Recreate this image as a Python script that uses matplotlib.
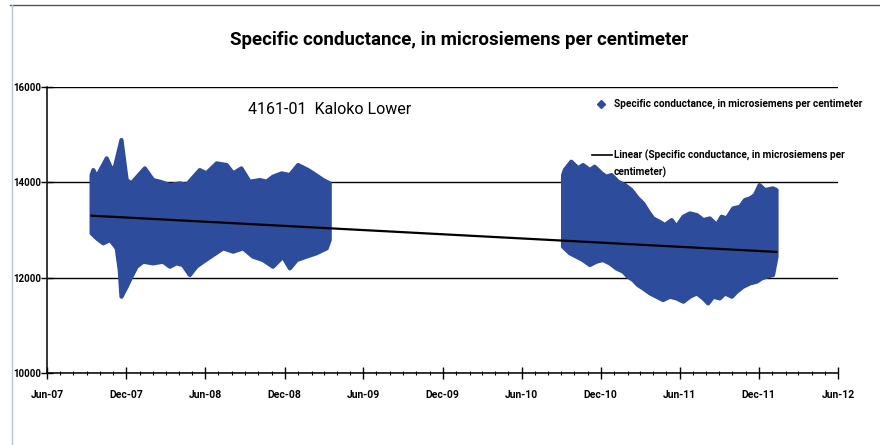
import matplotlib
matplotlib.use("Agg")
import matplotlib.pyplot as plt
import matplotlib.dates as mdates
from matplotlib.lines import Line2D
import pandas as pd

plt.rcParams['font.family'] = ['Roboto', 'DejaVu Sans']

# ---------------- data ----------------
seg1_upper_dates = ['2007-09-12', '2007-09-16', '2007-09-24', '2007-10-17', '2007-10-29', '2007-11-05',
                    '2007-11-20', '2007-12-02', '2007-12-13', '2008-01-13', '2008-02-01', '2008-02-17',
                    '2008-03-11', '2008-04-03', '2008-04-18', '2008-05-19', '2008-06-03', '2008-06-27',
                    '2008-07-20', '2008-08-04', '2008-08-23', '2008-09-11', '2008-10-05', '2008-10-20',
                    '2008-11-04', '2008-11-24', '2008-12-13', '2009-01-01', '2009-01-24', '2009-02-05',
                    '2009-02-28', '2009-03-15']
seg1_upper = [14150, 14258, 14118, 14503, 14258, 14328,
              14888, 14048, 13978, 14293, 14048, 14013,
              13943, 13978, 13943, 14258, 14188, 14398,
              14363, 14188, 14293, 14013, 14048, 14013,
              14118, 14188, 14153, 14363, 14258, 14188,
              14048, 13978]

seg1_lower_dates = ['2007-09-12', '2007-09-24', '2007-10-09', '2007-10-25', '2007-11-09', '2007-11-16',
                    '2007-11-20', '2007-12-02', '2007-12-13', '2007-12-25', '2008-01-09', '2008-02-01',
                    '2008-02-24', '2008-03-11', '2008-03-26', '2008-04-10', '2008-04-26', '2008-05-11',
                    '2008-05-27', '2008-06-19', '2008-07-12', '2008-08-04', '2008-08-27', '2008-09-19',
                    '2008-10-12', '2008-11-04', '2008-11-27', '2008-12-13', '2008-12-29', '2009-01-20',
                    '2009-02-12', '2009-03-08', '2009-03-15']
seg1_lower = [12930, 12825, 12720, 12790, 12615, 12160,
              11600, 11810, 12020, 12230, 12335, 12300,
              12335, 12230, 12300, 12265, 12055, 12230,
              12335, 12475, 12615, 12545, 12615, 12440,
              12370, 12230, 12440, 12195, 12370, 12440,
              12510, 12615, 12790]

seg2_upper_dates = ['2010-09-05', '2010-09-09', '2010-09-24', '2010-10-10', '2010-10-21', '2010-11-06',
                    '2010-11-17', '2010-12-03', '2010-12-14', '2010-12-26', '2011-01-10', '2011-01-26',
                    '2011-02-10', '2011-02-25', '2011-03-09', '2011-03-21', '2011-04-01', '2011-04-16',
                    '2011-04-28', '2011-05-14', '2011-05-25', '2011-06-10', '2011-06-25', '2011-07-11',
                    '2011-07-26', '2011-08-10', '2011-08-26', '2011-09-06', '2011-09-18', '2011-10-03',
                    '2011-10-19', '2011-10-30', '2011-11-11', '2011-11-22', '2011-12-03', '2011-12-15',
                    '2012-01-03', '2012-01-11']
seg2_upper = [14150, 14258, 14433, 14293, 14363, 14258,
              14328, 14188, 14118, 14153, 14013, 13943,
              13838, 13663, 13558, 13383, 13243, 13173,
              13103, 13208, 13068, 13278, 13348, 13313,
              13208, 13243, 13103, 13278, 13243, 13453,
              13488, 13628, 13663, 13733, 13943, 13838,
              13873, 13838]

seg2_lower_dates = ['2010-09-05', '2010-09-21', '2010-10-06', '2010-10-21', '2010-11-06', '2010-11-21',
                    '2010-12-06', '2010-12-22', '2011-01-06', '2011-01-22', '2011-02-02', '2011-02-14',
                    '2011-02-25', '2011-03-09', '2011-03-25', '2011-04-09', '2011-04-24', '2011-05-10',
                    '2011-05-25', '2011-06-10', '2011-06-25', '2011-07-11', '2011-07-26', '2011-08-06',
                    '2011-08-18', '2011-09-02', '2011-09-14', '2011-09-30', '2011-10-11', '2011-10-26',
                    '2011-11-11', '2011-11-26', '2011-12-08', '2011-12-19', '2012-01-03', '2012-01-11']
seg2_lower = [12648, 12510, 12440, 12370, 12265, 12335,
              12370, 12300, 12195, 12125, 12020, 11950,
              11844, 11774, 11670, 11600, 11530, 11600,
              11565, 11495, 11600, 11670, 11565, 11460,
              11600, 11565, 11670, 11600, 11705, 11810,
              11880, 11915, 11985, 12020, 12055, 12440]

trend_dates = ['2007-09-12', '2012-01-11']
trend_values = [13300, 12540]

y_ticks = [10000, 12000, 14000, 16000]
x_tick_dates = ['2007-06-01', '2007-12-01', '2008-06-01', '2008-12-01', '2009-06-01', '2009-12-01',
                '2010-06-01', '2010-12-01', '2011-06-01', '2011-12-01', '2012-06-01']

title = 'Specific conductance, in microsiemens per centimeter'
site_label = '4161-01  Kaloko Lower'
series_label = 'Specific conductance, in microsiemens per centimeter'
trend_label = 'Linear (Specific conductance, in microsiemens per\ncentimeter)'

# ---------------- drawing ----------------
BLUE = '#2E4C9C'
fig = plt.figure(figsize=(8.8, 4.45), dpi=100)
ax = fig.add_axes([47/880, 1 - 373/445, (838-47)/880, (373-87)/445])

for ud, uv, ld, lv in [(seg1_upper_dates, seg1_upper, seg1_lower_dates, seg1_lower),
                       (seg2_upper_dates, seg2_upper, seg2_lower_dates, seg2_lower)]:
    xs = list(pd.to_datetime(ud)) + list(pd.to_datetime(ld))[::-1]
    ys = list(uv) + list(lv)[::-1]
    ax.fill(mdates.date2num(xs), ys, facecolor=BLUE, edgecolor=BLUE, linewidth=3,
            joinstyle='round', zorder=3)

ax.plot(pd.to_datetime(trend_dates), trend_values, color='black', linewidth=1.6, zorder=4)

ax.set_xlim(pd.Timestamp(x_tick_dates[0]), pd.Timestamp(x_tick_dates[-1]))
ax.set_ylim(y_ticks[0], y_ticks[-1])
ax.set_yticks(y_ticks)
ax.set_xticks(pd.to_datetime(x_tick_dates))
ax.xaxis.set_major_formatter(mdates.DateFormatter('%b-%y'))
ax.xaxis.set_minor_locator(mdates.MonthLocator())
ax.tick_params(axis='both', which='major', direction='inout', length=8, width=1,
               labelsize=7.5, colors='black')
ax.tick_params(axis='y', which='major', labelsize=7, pad=0)
ax.tick_params(axis='x', which='minor', direction='inout', length=3, width=0.8)
ax.tick_params(axis='x', which='major', pad=8)
for lab in ax.get_xticklabels() + ax.get_yticklabels():
    lab.set_fontweight('bold')

ax.grid(axis='y', color='black', linewidth=1.0)
ax.set_axisbelow(True)
for s in ['top', 'right']:
    ax.spines[s].set_visible(False)
ax.spines['left'].set_linewidth(1.1)
ax.spines['bottom'].set_linewidth(1.1)

fig.text(459/880, 1 - 40/445, title, ha='center', va='center', fontsize=13.5, fontweight='bold')
fig.text(330/880, 1 - 110/445, site_label, ha='center', va='center', fontsize=11.5)

# legend (drawn manually so the line key sits beside the first label line, as in the original)
def fy(py):
    return 1 - py / 445

fig.add_artist(Line2D([601/880], [fy(104)], transform=fig.transFigure, linestyle='none',
                      marker='D', markersize=4, color=BLUE, zorder=6))
fig.text(614/880, fy(104), series_label, ha='left', va='center', fontsize=7.3,
         fontweight='bold', zorder=6)
fig.add_artist(Line2D([592/880, 612/880], [fy(155), fy(155)], transform=fig.transFigure,
                      color='black', linewidth=1.2, zorder=6))
fig.text(614/880, fy(155), trend_label.split('\n')[0], ha='left', va='center', fontsize=7.3,
         fontweight='bold', zorder=6)
fig.text(614/880, fy(172), trend_label.split('\n')[1], ha='left', va='center', fontsize=7.3,
         fontweight='bold', zorder=6)

# page border lines of the scanned chart area
fig.add_artist(Line2D([10/880, 1], [fy(5), fy(5)], transform=fig.transFigure,
                      color='#555555', linewidth=1))
fig.add_artist(Line2D([12/880, 12/880], [0, fy(5)], transform=fig.transFigure,
                      color='#b8c4cc', linewidth=1))

fig.savefig('out.png', dpi=100)
